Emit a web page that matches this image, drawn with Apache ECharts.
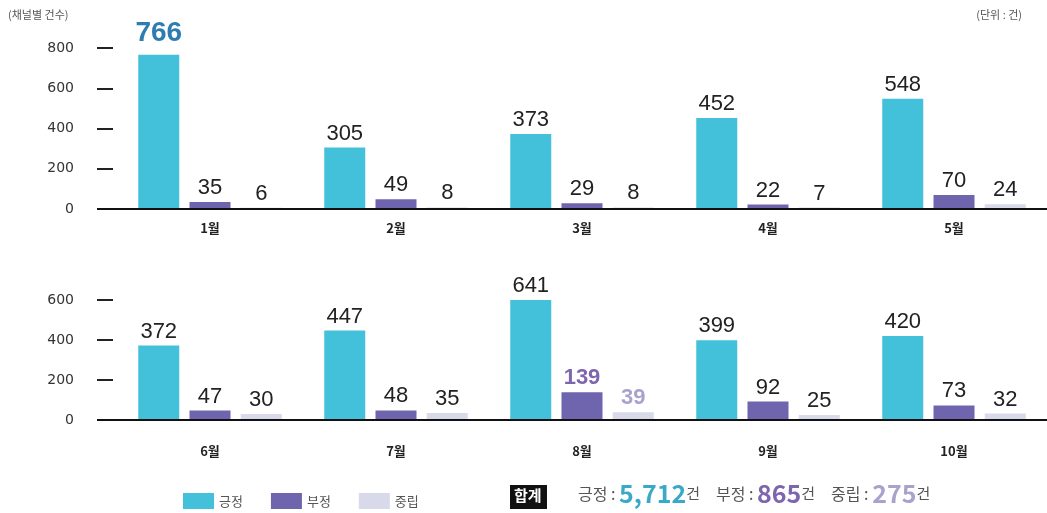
<!DOCTYPE html>
<html>
<head>
<meta charset="utf-8">
<script src="https://cdn.jsdelivr.net/npm/echarts@6/dist/echarts.min.js"></script>
<style>
  html, body { margin: 0; padding: 0; background: #fff; }
  #chart { width: 1047px; height: 513px; }
</style>
</head>
<body>
<div id="chart"></div>
<script>
// 월별 채널 건수 (단위: 건)
const monthsTop = ['1월', '2월', '3월', '4월', '5월'];
const monthsBottom = ['6월', '7월', '8월', '9월', '10월'];
const seriesNames = ['긍정', '부정', '중립'];

const positiveTop = [766, 305, 373, 452, 548];
const negativeTop = [35, 49, 29, 22, 70];
const neutralTop = [6, 8, 8, 7, 24];

const positiveBottom = [372, 447, 641, 399, 420];
const negativeBottom = [47, 48, 139, 92, 73];
const neutralBottom = [30, 35, 39, 25, 32];

const yTicksTop = [0, 200, 400, 600, 800];
const yTicksBottom = [0, 200, 400, 600];

// 합계
const totalLabels = ['긍정', '부정', '중립'];
const totalValues = ['5,712', '865', '275'];

const colors = ['#43c0da', '#6f64ae', '#d9dae9'];
const KR = "'Noto Sans CJK KR', 'Noto Sans', sans-serif";
const NUM = "'Liberation Sans', Arial, sans-serif";

// 강조 라벨 (값 위 숫자 색)
const highlight = {
  '1월-0': { color: '#2f7db0', fontWeight: 'bold', fontSize: 28, distance: 8 },
  '8월-1': { color: '#7e66ae', fontWeight: 'bold' },
  '8월-2': { color: '#a8a2cc', fontWeight: 'bold' }
};

const grids = [
  { left: 117, width: 935, top: 48, height: 161 },
  { left: 117, width: 935, top: 300, height: 120 }
];

function buildSeries(gridIdx, months, lists) {
  return lists.map((values, si) => ({
    name: seriesNames[si],
    type: 'bar',
    xAxisIndex: gridIdx,
    yAxisIndex: gridIdx,
    barWidth: 41,
    barGap: '25%',
    itemStyle: { color: colors[si] },
    label: {
      show: true,
      position: 'top',
      distance: 3,
      color: '#222',
      fontSize: 22,
      fontFamily: NUM
    },
    data: values.map((v, i) => {
      const h = highlight[months[i] + '-' + si];
      return h ? { value: v, label: h } : v;
    })
  }));
}

function xAxis(gridIdx, months, margin) {
  return {
    type: 'category',
    gridIndex: gridIdx,
    data: months,
    axisLine: { show: false },
    axisTick: { show: false },
    axisLabel: { color: '#222', fontSize: 13, fontWeight: 'bold', fontFamily: KR, margin: margin }
  };
}

function yAxis(gridIdx, ticks) {
  return {
    type: 'value',
    gridIndex: gridIdx,
    min: ticks[0],
    max: ticks[ticks.length - 1],
    interval: ticks[1] - ticks[0],
    offset: 4,
    splitLine: { show: false },
    axisLine: { show: false },
    axisTick: { show: true, length: 16, lineStyle: { color: '#222', width: 2 } },
    axisLabel: { color: '#333', fontSize: 14, fontFamily: "'DejaVu Sans', sans-serif", margin: 39 }
  };
}

function baseLine(grid) {
  const y = grid.top + grid.height;
  return { type: 'line', shape: { x1: 97, y1: y, x2: 1047, y2: y }, style: { stroke: '#111', lineWidth: 2 }, z: 10 };
}

const chart = echarts.init(document.getElementById('chart'));
chart.setOption({
  animation: false,
  grid: grids,
  xAxis: [xAxis(0, monthsTop, 13), xAxis(1, monthsBottom, 25)],
  yAxis: [yAxis(0, yTicksTop), yAxis(1, yTicksBottom)],
  legend: {
    data: seriesNames,
    left: 178,
    top: 488,
    icon: 'rect',
    itemWidth: 31,
    itemHeight: 16,
    itemGap: 28,
    textStyle: { color: '#555', fontSize: 13, fontFamily: KR }
  },
  series: [
    ...buildSeries(0, monthsTop, [positiveTop, negativeTop, neutralTop]),
    ...buildSeries(1, monthsBottom, [positiveBottom, negativeBottom, neutralBottom])
  ],
  graphic: [
    baseLine(grids[0]),
    baseLine(grids[1]),
    { type: 'text', left: 8, top: 9, style: { text: '(채널별 건수)', fill: '#555', fontSize: 11, fontFamily: KR } },
    { type: 'text', right: 25, top: 9, style: { text: '(단위 : 건)', fill: '#555', fontSize: 11, fontFamily: KR } },
    { type: 'rect', left: 510, top: 485, shape: { width: 37, height: 24 }, style: { fill: '#111' } },
    { type: 'text', left: 514, top: 488, style: { text: '합계', fill: '#fff', fontSize: 15, fontWeight: 'bold', fontFamily: KR } },
    {
      type: 'text',
      left: 578,
      top: 481,
      style: {
        text: totalLabels.map((t, i) => '{l|' + t + ' : }{v' + i + '|' + totalValues[i] + '}{u|건}').join('{s| }'),
        fontFamily: KR,
        rich: {
          l: { fill: '#555', fontSize: 16, fontFamily: KR },
          u: { fill: '#555', fontSize: 15, fontFamily: KR },
          s: { fontSize: 13, width: 16 },
          v0: { fill: '#3aa9c8', fontSize: 25, fontWeight: 'bold', fontFamily: KR },
          v1: { fill: '#7e66ae', fontSize: 25, fontWeight: 'bold', fontFamily: KR },
          v2: { fill: '#a8a2cc', fontSize: 25, fontWeight: 'bold', fontFamily: KR }
        }
      }
    }
  ]
});
</script>
</body>
</html>
